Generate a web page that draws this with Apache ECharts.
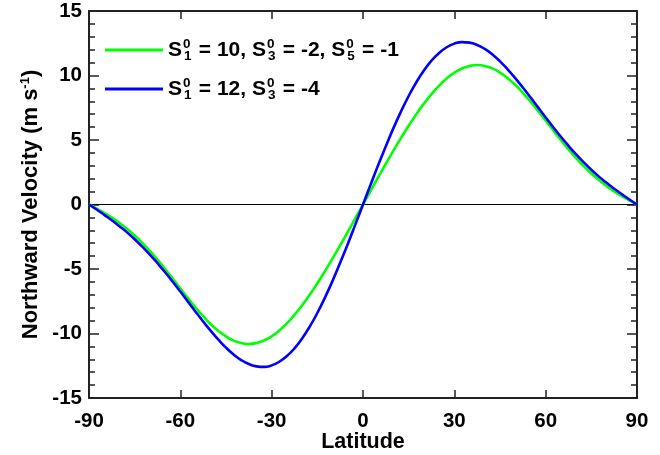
<!DOCTYPE html>
<html>
<head>
<meta charset="utf-8">
<script src="https://cdn.jsdelivr.net/npm/echarts@6/dist/echarts.min.js"></script>
<style>
html,body{margin:0;padding:0;background:#fff;}
#chart{width:660px;height:455px;}
</style>
</head>
<body>
<div id="chart"></div>
<script>
const latitudes = [-90,-87.5,-85,-82.5,-80,-77.5,-75,-72.5,-70,-67.5,-65,-62.5,-60,-57.5,-55,-52.5,-50,-47.5,-45,-42.5,-40,-37.5,-35,-32.5,-30,-27.5,-25,-22.5,-20,-17.5,-15,-12.5,-10,-7.5,-5,-2.5,
  0,2.5,5,7.5,10,12.5,15,17.5,20,22.5,25,27.5,30,32.5,35,37.5,40,42.5,45,47.5,50,52.5,55,57.5,60,62.5,65,67.5,70,72.5,75,77.5,80,82.5,85,87.5,90];
const greenValues = [0,-0.32,-0.66,-1.02,-1.43,-1.89,-2.40,-2.97,-3.60,-4.28,-5.00,-5.75,-6.51,-7.26,-7.99,-8.66,-9.28,-9.80,-10.23,-10.55,-10.74,-10.81,-10.74,-10.54,-10.22,-9.77,-9.22,-8.56,-7.82,-7.00,-6.11,-5.17,-4.18,-3.16,-2.12,-1.06,
  0,1.06,2.12,3.16,4.18,5.17,6.11,7.00,7.82,8.56,9.22,9.77,10.22,10.54,10.74,10.81,10.74,10.55,10.23,9.80,9.28,8.66,7.99,7.26,6.51,5.75,5.00,4.28,3.60,2.97,2.40,1.89,1.43,1.02,0.66,0.32,0];
const blueValues = [0,-0.39,-0.80,-1.22,-1.68,-2.16,-2.69,-3.27,-3.88,-4.55,-5.25,-5.99,-6.75,-7.53,-8.31,-9.07,-9.80,-10.48,-11.10,-11.63,-12.06,-12.37,-12.55,-12.59,-12.47,-12.19,-11.75,-11.15,-10.38,-9.47,-8.41,-7.22,-5.92,-4.52,-3.06,-1.54,
  0,1.54,3.06,4.52,5.92,7.22,8.41,9.47,10.38,11.15,11.75,12.19,12.47,12.59,12.55,12.37,12.06,11.63,11.10,10.48,9.80,9.07,8.31,7.53,6.75,5.99,5.25,4.55,3.88,3.27,2.69,2.16,1.68,1.22,0.80,0.39,0];
const seriesNames = ['green', 'blue'];
const legendLabels = {
  green: '{t|S}{sup|0}{sub|1}{t| = 10, S}{sup|0}{sub|3}{t| = -2, S}{sup|0}{sub|5}{t| = -1}',
  blue: '{t|S}{sup|0}{sub|1}{t| = 12, S}{sup|0}{sub|3}{t| = -4}'
};
const xTicks = [-90,-60,-30,0,30,60,90];
const yTicks = [-15,-10,-5,0,5,10,15];

const FONT = '"Liberation Sans", Arial, Helvetica, sans-serif';
const chart = echarts.init(document.getElementById('chart'), null, {renderer: 'canvas'});

function pairs(vals){ return latitudes.map((x,i)=>[x, vals[i]]); }

const axisLineStyle = {color:'#222', width:2};
const tickLabel = {fontFamily:FONT, fontWeight:'bold', fontSize:20.5, color:'#000'};
const richLegend = {
  t: {fontFamily: FONT, fontWeight:'bold', fontSize:21, color:'#000', lineHeight:26},
  sup: {fontFamily: FONT, fontWeight:'bold', fontSize:13.5, color:'#000', width:0, lineHeight:14, padding:[0,0,12,1]},
  sub: {fontFamily: FONT, fontWeight:'bold', fontSize:13.5, color:'#000', width:9, lineHeight:14, padding:[12,0,0,1]}
};

chart.setOption({
  animation:false,
  backgroundColor:'#fff',
  grid:{left:89, right:23, top:11, bottom:57, containLabel:false, outerBoundsMode:'none'},
  legend:{
    orient:'vertical', left:105, top:37, padding:0, itemWidth:58, itemHeight:3, itemGap:13,
    icon:'rect',
    data: seriesNames,
    formatter: name => legendLabels[name],
    textStyle:{fontFamily:FONT, fontWeight:'bold', fontSize:21, color:'#000', lineHeight:26, rich: richLegend}
  },
  xAxis:[{
    type:'value', min:xTicks[0], max:xTicks[xTicks.length-1], interval:30, position:'bottom',
    name:'Latitude', nameLocation:'middle', nameGap:33, nameMoveOverlap:false,
    nameTextStyle:{fontFamily:FONT, fontWeight:'bold', fontSize:21.5, color:'#000'},
    axisLine:{show:true, onZero:false, lineStyle:axisLineStyle},
    axisTick:{show:true, inside:true, length:8, lineStyle:{color:'#222', width:1.5}},
    axisLabel:Object.assign({margin:13}, tickLabel),
    splitLine:{show:false}
  },{
    type:'value', min:xTicks[0], max:xTicks[xTicks.length-1], interval:30, position:'top',
    axisLine:{show:true, onZero:false, lineStyle:axisLineStyle},
    axisTick:{show:true, inside:true, length:8, lineStyle:{color:'#222', width:1.5}},
    axisLabel:{show:false}, splitLine:{show:false}
  }],
  yAxis:[{
    type:'value', min:yTicks[0], max:yTicks[yTicks.length-1], interval:5, position:'left',
    name:'Northward Velocity (m s{sup|-1})', nameLocation:'middle', nameGap:47, nameRotate:90, nameMoveOverlap:false,
    nameTextStyle:{fontFamily:FONT, fontWeight:'bold', fontSize:22, color:'#000',
      rich:{sup:{fontFamily:FONT, fontWeight:'bold', fontSize:13, color:'#000', lineHeight:14, padding:[0,0,12,0]}}},
    axisLine:{show:true, onZero:false, lineStyle:axisLineStyle},
    axisTick:{show:true, inside:true, length:10, lineStyle:{color:'#222', width:1.5}},
    minorTick:{show:true, splitNumber:5, length:6, lineStyle:{color:'#222', width:1.5}},
    axisLabel:Object.assign({margin:7}, tickLabel),
    splitLine:{show:false}, minorSplitLine:{show:false}
  },{
    type:'value', min:yTicks[0], max:yTicks[yTicks.length-1], interval:5, position:'right',
    axisLine:{show:true, onZero:false, lineStyle:axisLineStyle},
    axisTick:{show:true, inside:true, length:10, lineStyle:{color:'#222', width:1.5}},
    minorTick:{show:true, splitNumber:5, length:6, lineStyle:{color:'#222', width:1.5}},
    axisLabel:{show:false}, splitLine:{show:false}, minorSplitLine:{show:false}
  }],
  series:[{
    name:'green', type:'line', data:pairs(greenValues), smooth:true, symbol:'none',
    lineStyle:{color:'#00ff00', width:2.6}, itemStyle:{color:'#00ff00'}, z:3,
    markLine:{silent:true, symbol:'none', label:{show:false}, lineStyle:{color:'#000', width:1, type:'solid'}, data:[{yAxis:0}], z:1}
  },{
    name:'blue', type:'line', data:pairs(blueValues), smooth:true, symbol:'none',
    lineStyle:{color:'#0000ff', width:2.6}, itemStyle:{color:'#0000ff'}, z:4
  }]
});
</script>
</body>
</html>
